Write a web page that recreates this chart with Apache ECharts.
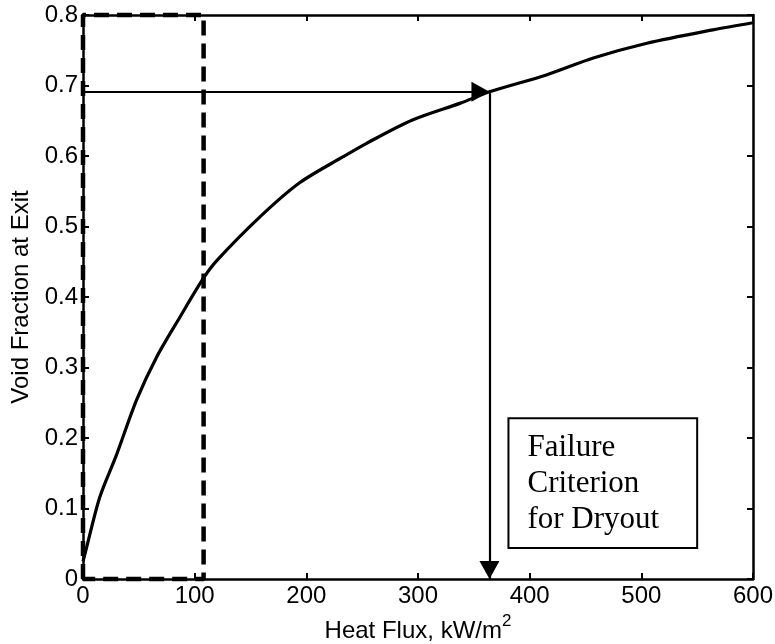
<!DOCTYPE html>
<html>
<head>
<meta charset="utf-8">
<script src="https://cdn.jsdelivr.net/npm/echarts@6/dist/echarts.min.js"></script>
<style>
html,body{margin:0;padding:0;background:#fff;}
#chart{width:775px;height:644px;}
</style>
</head>
<body>
<div id="chart"></div>
<script>
// Heat flux (kW/m^2) and exit void fraction
const heatFlux = [0, 2, 15, 30, 48, 66, 87, 108, 120, 158, 194, 233, 254, 295, 338, 364, 415, 457, 505, 564, 600];
const voidFrac = [0.025, 0.037, 0.116, 0.176, 0.254, 0.315, 0.372, 0.427, 0.452, 0.513, 0.562, 0.599, 0.618, 0.651, 0.675, 0.691, 0.715, 0.739, 0.760, 0.779, 0.789];

// Dashed region (x from 0 to 108, full y range)
const dashBoxX = [0, 0, 108, 108, 0];
const dashBoxY = [0, 0.8, 0.8, 0, 0];

// Failure criterion point
const criterionX = 364;
const criterionY = 0.691;

// Annotation box corners (data coords)
const noteBox = [[381, 0.228], [550, 0.044]];
const noteText = 'Failure\nCriterion\nfor Dryout';

const xTicks = [0, 100, 200, 300, 400, 500, 600];
const yTicks = [0, 0.1, 0.2, 0.3, 0.4, 0.5, 0.6, 0.7, 0.8];

const chart = echarts.init(document.getElementById('chart'));
const axisFont = {fontFamily: 'Liberation Sans, Arial, sans-serif', fontSize: 24, color: '#000'};

chart.setOption({
  backgroundColor: '#fff',
  animation: false,
  grid: {left: 83, right: 22, top: 15, bottom: 65, containLabel: false, outerBoundsMode: 'none'},
  xAxis: [{
    type: 'value', min: 0, max: 600, interval: 100,
    axisLine: {show: true, onZero: false, lineStyle: {color: '#000', width: 2.5}},
    axisTick: {show: true, inside: true, length: 6, lineStyle: {color: '#000', width: 2}},
    splitLine: {show: false},
    axisLabel: Object.assign({margin: 5}, axisFont),
    name: '{a|Heat Flux, kW/m}{s|2}',
    nameLocation: 'middle', nameGap: 27,
    nameTextStyle: {
      rich: {
        a: {fontFamily: 'Liberation Sans, Arial, sans-serif', fontSize: 24, color: '#000', verticalAlign: 'bottom', lineHeight: 30},
        s: {fontFamily: 'Liberation Sans, Arial, sans-serif', fontSize: 17, color: '#000', verticalAlign: 'top', lineHeight: 30, padding: [0,0,14,0]}
      }
    }
  }, {
    type: 'value', position: 'top', min: 0, max: 600, interval: 100,
    axisLine: {show: true, onZero: false, lineStyle: {color: '#000', width: 2.5}},
    axisTick: {show: true, inside: true, length: 6, lineStyle: {color: '#000', width: 2}},
    axisLabel: {show: false}, splitLine: {show: false}
  }],
  yAxis: [{
    type: 'value', min: 0, max: 0.8, interval: 0.1,
    axisLine: {show: true, onZero: false, lineStyle: {color: '#000', width: 2.5}},
    axisTick: {show: true, inside: true, length: 6, lineStyle: {color: '#000', width: 2}},
    splitLine: {show: false},
    axisLabel: Object.assign({margin: 5}, axisFont),
    name: 'Void Fraction at Exit',
    nameLocation: 'middle', nameGap: 48,
    nameTextStyle: {fontFamily: 'Liberation Sans, Arial, sans-serif', fontSize: 24, color: '#000'}
  }, {
    type: 'value', position: 'right', min: 0, max: 0.8, interval: 0.1,
    axisLine: {show: true, onZero: false, lineStyle: {color: '#000', width: 2.5}},
    axisTick: {show: true, inside: true, length: 6, lineStyle: {color: '#000', width: 2}},
    axisLabel: {show: false}, splitLine: {show: false}
  }],
  series: [{
    type: 'line',
    data: heatFlux.map((x, i) => [x, voidFrac[i]]),
    smooth: 0.3,
    symbol: 'none',
    lineStyle: {color: '#000', width: 3.2},
    z: 5
  }, {
    type: 'line',
    data: dashBoxX.map((x, i) => [x, dashBoxY[i]]),
    symbol: 'none',
    clip: false,
    lineStyle: {color: '#000', width: 4.5, type: [15, 8]},
    z: 4
  }, {
    type: 'line',
    data: [],
    markLine: {
      silent: true,
      symbol: ['none', 'triangle'],
      symbolSize: [20, 18],
      symbolOffset: [[0, 0], [0, 9]],
      label: {show: false},
      lineStyle: {color: '#000', width: 2.2, type: 'solid'},
      data: [
        [{coord: [0, criterionY]}, {coord: [criterionX, criterionY]}],
        [{coord: [criterionX, criterionY]}, {coord: [criterionX, 0]}]
      ]
    },
    markArea: {
      silent: true,
      itemStyle: {color: '#fff', borderColor: '#000', borderWidth: 2},
      label: {
        show: true, position: 'insideTopLeft',
        formatter: noteText,
        fontFamily: 'Liberation Serif, Times New Roman, serif',
        fontSize: 31, lineHeight: 36, color: '#000',
        distance: 0,
        padding: [13, 0, 0, 20]
      },
      data: [[{coord: noteBox[0]}, {coord: noteBox[1]}]]
    },
    z: 6
  }]
});
</script>
</body>
</html>
